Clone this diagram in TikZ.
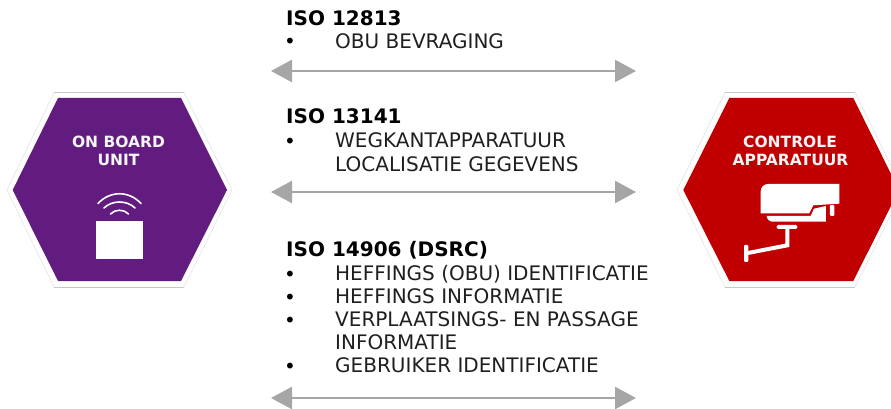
\documentclass[tikz,border=0pt]{standalone}
\usepackage{fontspec}
\setmainfont{DejaVu Sans}
\usetikzlibrary{arrows.meta}
\definecolor{obu}{HTML}{621B7F}
\definecolor{ctrl}{HTML}{C00000}
\definecolor{arrowgrey}{HTML}{A6A6A6}
\definecolor{rim}{HTML}{C8C8C8}
\tikzset{
  x=1pt,y=-1pt,
  body/.style={anchor=base west,inner sep=0pt,font=\fontsize{20}{22}\selectfont,text=black!88},
  head/.style={anchor=base west,inner sep=0pt,font=\fontsize{20}{22}\selectfont\bfseries,text=black},
  dot/.style={anchor=base west,inner sep=0pt,font=\fontsize{20}{22}\selectfont,text=black},
  hexlabel/.style={anchor=base,inner sep=0pt,font=\fontsize{15.5}{17}\selectfont\bfseries,text=white!96!black},
  link/.style={draw=arrowgrey,line width=2.6pt,{Triangle[length=21pt,width=22pt,fill=arrowgrey]}-{Triangle[length=21pt,width=22pt,fill=arrowgrey]}},
  rimline/.style={draw=rim,line width=0.7pt,line join=round},
  iconline/.style={draw=white,line width=1.6pt,line cap=round}
}
\begin{document}
\begin{tikzpicture}
\useasboundingbox (0,0) rectangle (891,409);
\begin{scope}
\clip (0,0) rectangle (891,409);
% left hexagon
\draw[rimline,draw=rim!45] (7,190) -- (54,92.5) (184,92.5) -- (232,190) -- (184,287) (54,287) -- (7,190);
\draw[rimline] (54,92.5) -- (184,92.5) (54,287) -- (184,287);
\fill[obu] (12.7,190) -- (58,98) -- (181,98) -- (227,190) -- (181,281) -- (58,281) -- cycle;
% right hexagon
\draw[rimline,draw=rim!45] (677,190) -- (725,92.5) (855,92.5) -- (903,190) -- (855,287) (725,287) -- (677,190);
\draw[rimline] (725,92.5) -- (855,92.5) (725,287) -- (855,287);
\fill[ctrl] (683.3,190) -- (729.3,98) -- (853.3,98) -- (899,190) -- (853.3,281) -- (729.3,281) -- cycle;
\end{scope}
% hexagon labels
\node[hexlabel] (obu1) at (118.5,147.5) {ON BOARD};
\node[hexlabel] (obu2) at (118.5,165.5) {UNIT};
\node[hexlabel] (ctl1) at (790,147.5) {CONTROLE};
\node[hexlabel] (ctl2) at (790.5,165.5) {APPARATUUR};
% OBU icon
\fill[white] (96.3,220.5) rectangle (142.7,258.8);
\draw[iconline] (98,203.5) .. controls (110,190.5) and (129,190.5) .. (141,203.5);
\draw[iconline] (104,208) .. controls (112,200) and (127,200) .. (135,208);
\draw[iconline] (110.5,214) .. controls (115,209) and (124,209) .. (128.5,214);
% camera icon (reference zoom coordinates /3)
\begin{scope}[shift={(670,80)},x=0.3333pt,y=-0.3333pt]
\fill[white] (272,400) -- (272,335) .. controls (272,320) and (282,312) .. (296,312) -- (508,312) -- (508,371) -- (430,376) -- (418,400) -- cycle;
\fill[white] (290,408) -- (422,408) -- (432,386) -- (468,378) -- (468,425) -- (305,425) .. controls (297,425) and (292,418) .. (290,408) -- cycle;
\fill[white,rounded corners=1pt] (480,375) rectangle (493,408);
\fill[white,rounded corners=1.5pt] (320,435) rectangle (382,447);
\fill[white] (346,447) -- (358,447) -- (358,501) -- (234,525) -- (234,513) -- (346,491) -- cycle;
\fill[white,rounded corners=1pt] (222,495) rectangle (235,546);
\end{scope}
% texts
\node[head] (h1) at (286,25.3) {ISO 12813};
\node[dot] (b1) at (284,49) {•};
\node[body] (t1) at (335,48.5) {OBU BEVRAGING};
\node[head] (h2) at (286,124) {ISO 13141};
\node[dot] (b2) at (284,148) {•};
\node[body] (t2) at (335,147.5) {WEGKANTAPPARATUUR};
\node[body] (t3) at (335,171.5) {LOCALISATIE GEGEVENS};
\node[head] (h3) at (286,256) {ISO 14906 (DSRC)};
\node[dot] (b3) at (284,281) {•};
\node[body] (t4) at (335,280) {HEFFINGS (OBU) IDENTIFICATIE};
\node[dot] (b4) at (284,304) {•};
\node[body] (t5) at (335,303) {HEFFINGS INFORMATIE};
\node[dot] (b5) at (284,327) {•};
\node[body] (t6) at (335,326) {VERPLAATSINGS- EN PASSAGE};
\node[body] (t7) at (335,349) {INFORMATIE};
\node[dot] (b6) at (284,373) {•};
\node[body] (t8) at (335,372) {GEBRUIKER IDENTIFICATIE};
% arrows
\coordinate (a1l) at (271,71); \coordinate (a1r) at (636,71);
\coordinate (a2l) at (271,192); \coordinate (a2r) at (636,192);
\coordinate (a3l) at (271,398); \coordinate (a3r) at (636,398);
\draw[link] (a1l) -- (a1r);
\draw[link] (a2l) -- (a2r);
\draw[link] (a3l) -- (a3r);
\end{tikzpicture}
\end{document}
